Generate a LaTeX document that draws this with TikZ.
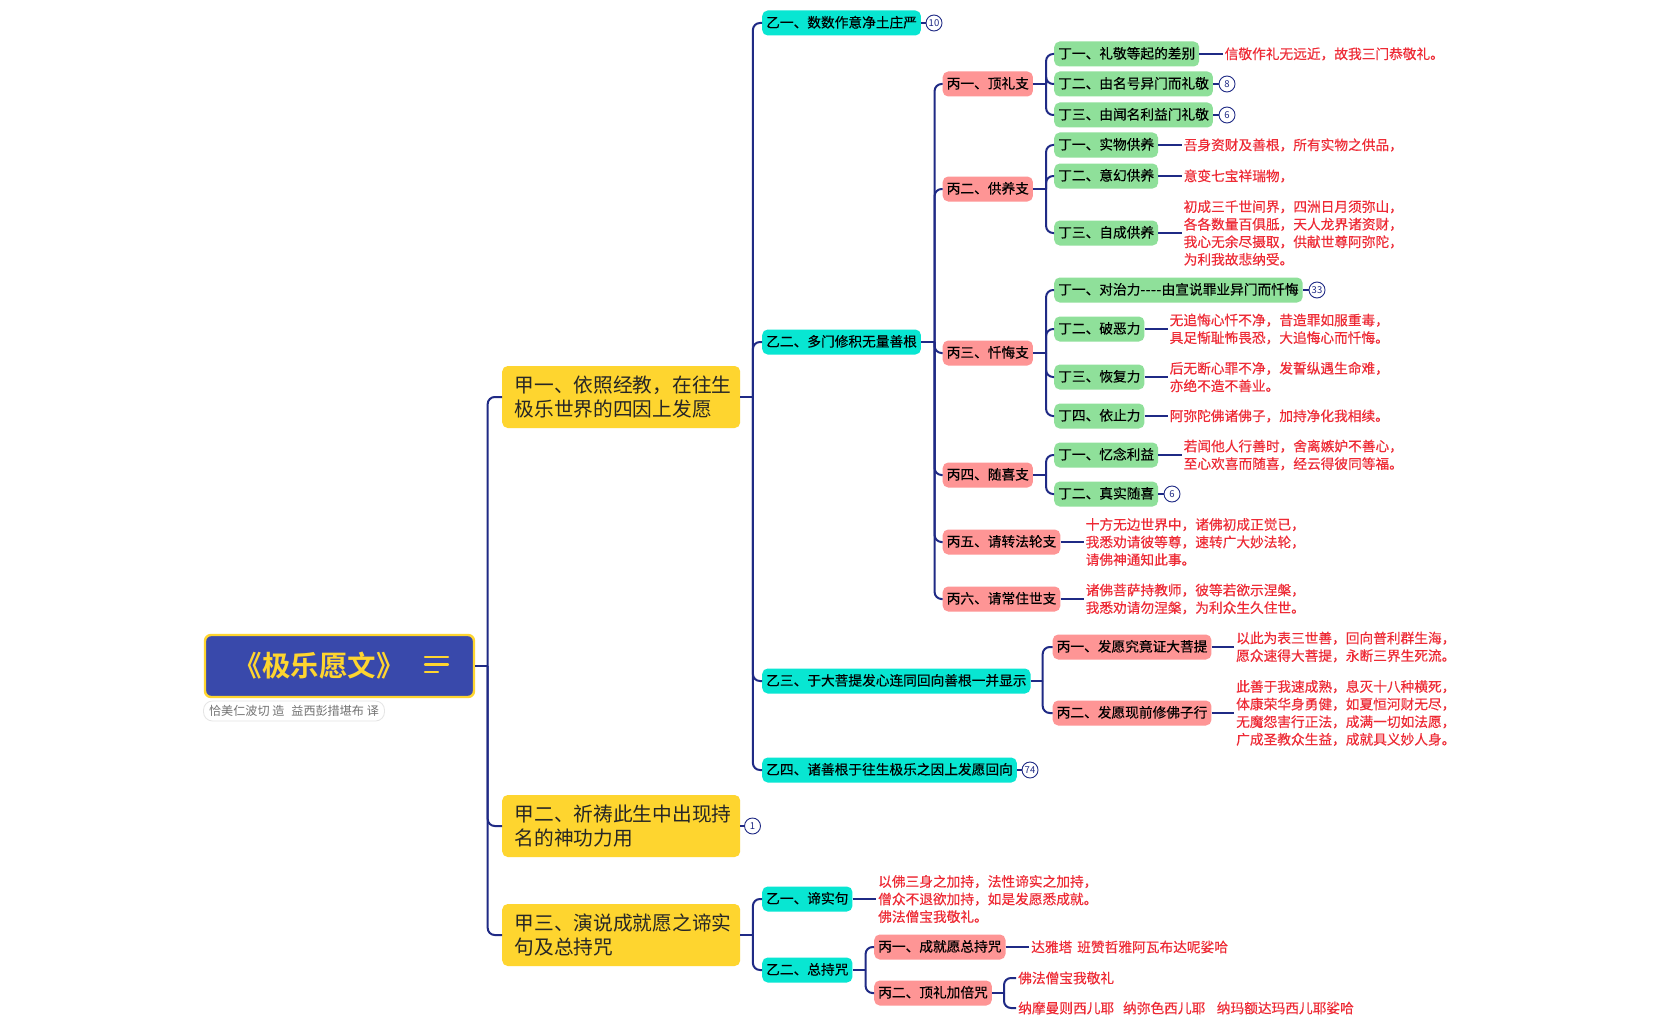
\documentclass[tikz,border=0pt]{standalone}
\usepackage{fontspec}
\setmainfont{Noto Sans CJK SC}
\newfontfamily\mdfont{Noto Sans CJK SC}[FakeBold=0.3]
\newfontfamily\hvfont{Noto Sans CJK SC}[BoldFont={Noto Sans CJK SC Bold}]
\definecolor{navy}{HTML}{1F2A85}
\definecolor{rootblue}{HTML}{3949AB}
\definecolor{sun}{HTML}{FED52F}
\definecolor{teal1}{HTML}{08E6D2}
\definecolor{pink1}{HTML}{FE9595}
\definecolor{green1}{HTML}{8FE09A}
\definecolor{red1}{HTML}{EE2A35}
\tikzset{
  conn/.style={draw=navy,line width=2pt},
  small/.style={font=\mdfont\fontsize{13.7}{17.5}\selectfont,text=black,rounded corners=5.5pt,
     minimum height=25pt,inner xsep=4pt,inner ysep=0pt,text height=11.5pt,text depth=2.4pt,anchor=west},
  yi/.style={small,fill=teal1},
  bing/.style={small,fill=pink1},
  ding/.style={small,fill=green1},
  jia/.style={font=\fontsize{19.7}{24.8}\selectfont,text=black!85,fill=sun,rounded corners=5.5pt,
     minimum height=62pt,inner xsep=12.5pt,inner ysep=0pt,text width=213pt,align=left,anchor=west},
  redtx/.style={font=\mdfont\fontsize{13.7}{17.6}\selectfont,text=red1,inner xsep=2pt,inner ysep=0pt,align=left,anchor=west},
  badge/.style={circle,draw=navy,line width=0.9pt,fill=white,text=navy,minimum size=16pt,inner sep=0pt,
     font=\fontsize{9.5}{10}\selectfont},
  rootbox/.style={fill=rootblue,draw=sun,line width=2.4pt,rounded corners=6pt,minimum width=269pt,
     minimum height=62pt,inner sep=0pt,text=sun},
  pill/.style={fill=white,draw=black!10,line width=0.8pt,rounded corners=9pt,minimum width=181pt,minimum height=20pt,
     inner sep=0pt,text=black!55,font=\fontsize{12.1}{14}\selectfont},
  menuline/.style={draw=sun,line width=2.3pt,line cap=round}
}
\newcommand{\brch}[3]{%
  \draw[conn] (#1.east) -- ([xshift=#2pt]#1.east);
  \foreach \cc in {#3}{\draw[conn,rounded corners=7pt] ([xshift=#2pt]#1.east) |- (\cc.west);}
}
\newcommand{\leaf}[2]{\draw[conn] (#1.east) -- (#2.west);}
\begin{document}
\begin{tikzpicture}[x=1pt,y=-1pt]
\useasboundingbox (0,-1) rectangle (1664,1029);
\fill[white] (0,-1) rectangle (1664,1029);
% root
\node[rootbox] (root) at (339.5,665) {};
\node[text=sun,inner sep=0pt] (title) at (319,664.5) {\hvfont\bfseries\fontsize{28.5}{30}\selectfont 《极乐愿文》};
\node[pill] (note) at (294,710) {恰美仁波切 造\hspace{7pt}益西彭措堪布 译};
\coordinate (m1a) at (425,656); \coordinate (m1b) at (448,656);
\coordinate (m2a) at (425,663.5); \coordinate (m2b) at (448,663.5);
\coordinate (m3a) at (425,671); \coordinate (m3b) at (438,671);
\draw[menuline] (m1a) -- (m1b);
\draw[menuline] (m2a) -- (m2b);
\draw[menuline] (m3a) -- (m3b);
% jia
\node[jia] (j1) at (502,396) {甲一、依照经教，在往生\\极乐世界的四因上发愿};
\node[jia] (j2) at (502,825) {甲二、祈祷此生中出现持\\名的神功力用};
\node[jia] (j3) at (502,934) {甲三、演说成就愿之谛实\\句及总持咒};
\node[badge] (c1) at (752.5,825) {1};
% yi under j1
\node[yi] (y1) at (762,22) {乙一、数数作意净土庄严};
\node[yi] (y2) at (762,341) {乙二、多门修积无量善根};
\node[yi] (y3) at (762,680) {乙三、于大菩提发心连同回向善根一并显示};
\node[yi] (y4) at (762,769) {乙四、诸善根于往生极乐之因上发愿回向};
\node[badge] (c10) at (934,22) {10};
\node[badge] (c74) at (1030,769) {74};
% bing under y2
\node[bing] (b1) at (942.5,83) {丙一、顶礼支};
\node[bing] (b2) at (942.5,188) {丙二、供养支};
\node[bing] (b3) at (942.5,352) {丙三、忏悔支};
\node[bing] (b4) at (942.5,474) {丙四、随喜支};
\node[bing] (b5) at (942.5,541) {丙五、请转法轮支};
\node[bing] (b6) at (942.5,598) {丙六、请常住世支};
% ding
\node[ding] (d11) at (1054,53) {丁一、礼敬等起的差别};
\node[ding] (d12) at (1054,83) {丁二、由名号异门而礼敬};
\node[ding] (d13) at (1054,114) {丁三、由闻名利益门礼敬};
\node[badge] (c8) at (1227,83) {8};
\node[badge] (c6a) at (1227,114) {6};
\node[redtx] (r11) at (1222.5,53) {信敬作礼无远近，故我三门恭敬礼。};
\node[ding] (d21) at (1054,144) {丁一、实物供养};
\node[ding] (d22) at (1054,175) {丁二、意幻供养};
\node[ding] (d23) at (1054,232) {丁三、自成供养};
\node[redtx] (r21) at (1181.5,144) {吾身资财及善根，所有实物之供品，};
\node[redtx] (r22) at (1181.5,175) {意变七宝祥瑞物，};
\node[redtx] (r23) at (1181.5,232) {初成三千世间界，四洲日月须弥山，\\各各数量百俱胝，天人龙界诸资财，\\我心无余尽摄取，供献世尊阿弥陀，\\为利我故悲纳受。};
\node[ding] (d31) at (1054,289) {丁一、对治力{-}\kern.6pt{-}\kern.6pt{-}\kern.6pt{-}\kern.4pt由宣说罪业异门而忏悔};
\node[ding] (d32) at (1054,328) {丁二、破恶力};
\node[ding] (d33) at (1054,376) {丁三、恢复力};
\node[ding] (d34) at (1054,415) {丁四、依止力};
\node[badge] (c33) at (1317,289) {33};
\node[redtx] (r32) at (1167.5,328) {无追悔心忏不净，昔造罪如服重毒，\\具足惭耻怖畏恐，大追悔心而忏悔。};
\node[redtx] (r33) at (1167.5,376) {后无断心罪不净，发誓纵遇生命难，\\亦绝不造不善业。};
\node[redtx] (r34) at (1167.5,415) {阿弥陀佛诸佛子，加持净化我相续。};
\node[ding] (d41) at (1054,454) {丁一、忆念利益};
\node[ding] (d42) at (1054,493) {丁二、真实随喜};
\node[badge] (c6b) at (1172,493) {6};
\node[redtx] (r41) at (1181.5,454) {若闻他人行善时，舍离嫉妒不善心，\\至心欢喜而随喜，经云得彼同等福。};
\node[redtx] (r5) at (1083.5,541) {十方无边世界中，诸佛初成正觉已，\\我悉劝请彼等尊，速转广大妙法轮，\\请佛神通知此事。};
\node[redtx] (r6) at (1083.5,598) {诸佛菩萨持教师，彼等若欲示涅槃，\\我悉劝请勿涅槃，为利众生久住世。};
% y3 children
\node[bing] (e1) at (1052.5,646) {丙一、发愿究竟证大菩提};
\node[bing] (e2) at (1052.5,712) {丙二、发愿现前修佛子行};
\node[redtx] (re1) at (1234,646) {以此为表三世善，回向普利群生海，\\愿众速得大菩提，永断三界生死流。};
\node[redtx] (re2) at (1234,712) {此善于我速成熟，息灭十八种横死，\\体康荣华身勇健，如夏恒河财无尽，\\无魔怨害行正法，成满一切如法愿，\\广成圣教众生益，成就具义妙人身。};
% j3 children
\node[yi] (f1) at (762,898) {乙一、谛实句};
\node[yi] (f2) at (762,969) {乙二、总持咒};
\node[redtx] (rf1) at (876,898) {以佛三身之加持，法性谛实之加持，\\僧众不退欲加持，如是发愿悉成就。\\佛法僧宝我敬礼。};
\node[bing] (g1) at (874,946) {丙一、成就愿总持咒};
\node[bing] (g2) at (874,992) {丙二、顶礼加倍咒};
\node[redtx] (rg1) at (1029,946) {达雅塔\hspace{5pt}班赞哲雅阿瓦布达呢娑哈};
\node[redtx] (rg2) at (1016,977) {佛法僧宝我敬礼};
\node[redtx] (rg3) at (1016,1007) {纳摩曼则西儿耶\hspace{9pt}纳弥色西儿耶\hspace{11.5pt}纳玛额达玛西儿耶娑哈};
% connectors
\brch{root}{12.5}{j1,j2,j3}
\brch{j1}{12.5}{y1,y2,y3,y4}
\leaf{j2}{c1}
\brch{j3}{12.5}{f1,f2}
\leaf{y1}{c10}
\leaf{y4}{c74}
\brch{y2}{13.5}{b1,b2,b3,b4,b5,b6}
\brch{y3}{12}{e1,e2}
\brch{b1}{13}{d11,d12,d13}
\brch{b2}{13}{d21,d22,d23}
\brch{b3}{13}{d31,d32,d33,d34}
\brch{b4}{13}{d41,d42}
\brch{f2}{13}{g1,g2}
\brch{g2}{12}{rg2,rg3}
\leaf{d11}{r11}\leaf{d12}{c8}\leaf{d13}{c6a}
\leaf{d21}{r21}\leaf{d22}{r22}\leaf{d23}{r23}
\leaf{d31}{c33}\leaf{d32}{r32}\leaf{d33}{r33}\leaf{d34}{r34}
\leaf{d41}{r41}\leaf{d42}{c6b}
\leaf{b5}{r5}\leaf{b6}{r6}
\leaf{e1}{re1}\leaf{e2}{re2}
\leaf{f1}{rf1}\leaf{g1}{rg1}
\end{tikzpicture}
\end{document}
